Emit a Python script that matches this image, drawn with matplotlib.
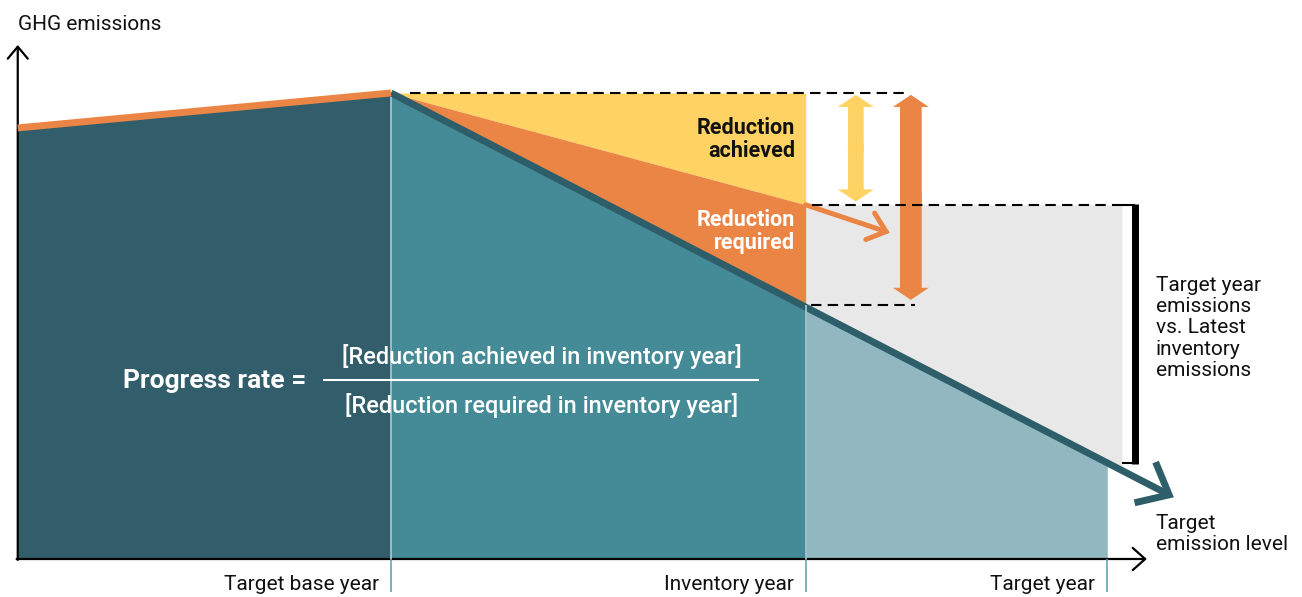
import numpy as np
import matplotlib
matplotlib.use('Agg')
import matplotlib.pyplot as plt
from matplotlib.patches import FancyArrowPatch

plt.rcParams['font.family'] = ['Roboto', 'DejaVu Sans']

# ---------------- data (conceptual diagram) ----------------
hist_years = [2000.1, 2010]
hist_emissions = [92.5, 100.0]
traj_years = [2010, 2021, 2029, 2030.8]
traj_emissions = [100.0, 54.6, 20.6, 13.1]
achieved_years = [2010, 2021]
achieved_emissions = [100.0, 76.0]
tick_years = [2010, 2021, 2029]
tick_labels = ['Target base year', 'Inventory year', 'Target year']
base_level = 100.0
inventory_level = 76.0
required_level = 54.6
target_level = 20.6

# ---------------- styles ----------------
DARK = '#325d6a'
TEAL = '#458a97'
LIGHT = '#91b7c1'
GRAY = '#e8e8e8'
YELLOW = '#fed263'
ORANGE = '#eb8545'
LINE = '#2f5e6b'
SEP = '#a3c1c8'
TICK = '#6aa3b0'
TXT = '#111111'

fig = plt.figure(figsize=(13.02, 5.97), dpi=100)
ax = fig.add_axes([0, 0, 1, 1])
ax.set_xlim(1999.629, 2034.165)
ax.set_ylim(-8.155, 119.95)
ax.axis('off')

AXIS_X0 = hist_years[0]

# areas
ax.fill_between(hist_years, 0, hist_emissions, color=DARK, lw=0)
ax.fill_between(traj_years[:2], 0, traj_emissions[:2], color=TEAL, lw=0)
ax.fill_between(traj_years[1:3], 0, traj_emissions[1:3], color=LIGHT, lw=0)
gx = np.array([traj_years[1], 2029.39])
ax.fill_between(gx, np.interp(gx, traj_years, traj_emissions), inventory_level,
                color=GRAY, lw=0)
ax.fill_between(achieved_years, achieved_emissions, base_level, color=YELLOW, lw=0)
ax.fill_between(achieved_years, traj_emissions[:2], achieved_emissions, color=ORANGE, lw=0)

# separators and ticks
ax.vlines([tick_years[0]], 0, hist_emissions[-1] - 0.8, color=SEP, lw=1.3)
ax.vlines([tick_years[1]], 0, required_level, color=SEP, lw=1.3)
ax.vlines(tick_years, -7.1, 0, color=TICK, lw=1.2)

# trajectory line with arrow
ax.add_patch(FancyArrowPatch((traj_years[0], traj_emissions[0]),
                             (traj_years[-1], traj_emissions[-1]),
                             arrowstyle='->,head_length=19.5,head_width=16.5',
                             mutation_scale=1, lw=5, color=LINE,
                             shrinkA=0, shrinkB=1, joinstyle='miter', capstyle='butt'))

# orange band on historical emissions
ax.plot(hist_years, hist_emissions, color=ORANGE, lw=5, solid_capstyle='butt')

# dashed guide lines
dash = (0, (5, 3))
ax.hlines(base_level, 2010.5, 2023.74, colors='k', lw=1.5, linestyles=[dash])
ax.hlines(inventory_level, 2021.17, 2029.55, colors='k', lw=1.5, linestyles=[dash])
ax.hlines(required_level, 2021.14, 2023.90, colors='k', lw=1.5, linestyles=[dash])

# double arrows (two overlapping single-headed halves)
def double_arrow(x, y0, y1, body, color):
    mid = (y0 + y1) / 2
    ov = 1.0
    ax.arrow(x, mid - ov, 0, y1 - (mid - ov), width=body, head_width=0.955,
             head_length=2.6, length_includes_head=True, color=color, lw=0)
    ax.arrow(x, mid + ov, 0, y0 - (mid + ov), width=body, head_width=0.955,
             head_length=2.6, length_includes_head=True, color=color, lw=0)

double_arrow(2022.33, inventory_level + 0.7, base_level - 0.4, 0.416, YELLOW)
double_arrow(2023.79, required_level + 1.0, base_level - 0.4, 0.576, ORANGE)

# small orange arrow
ax.add_patch(FancyArrowPatch((achieved_years[1], achieved_emissions[1]), (2023.30, 69.8),
                             arrowstyle='->,head_length=12,head_width=10',
                             mutation_scale=1, lw=3.6, color=ORANGE,
                             shrinkA=0, shrinkB=2, joinstyle='miter'))

# bracket
ax.vlines(2029.74, target_level - 0.2, inventory_level + 0.2, colors='k', lw=5)
ax.hlines([inventory_level, target_level], 2029.39, 2029.74, colors='k', lw=1.5)

# axes arrows
ax.add_patch(FancyArrowPatch((AXIS_X0, -0.2), (AXIS_X0, 110.3),
                             arrowstyle='->,head_length=8.6,head_width=7.2',
                             mutation_scale=1, lw=1.6, color='k', shrinkA=0, shrinkB=0))
ax.add_patch(FancyArrowPatch((AXIS_X0 - 0.03, 0), (2030.05, 0),
                             arrowstyle='->,head_length=9,head_width=8',
                             mutation_scale=1, lw=1.6, color='k', shrinkA=0, shrinkB=0))

# texts
FS = 15
ax.text(AXIS_X0, 114.6, 'GHG emissions', fontsize=FS, ha='left', va='center', color=TXT)
for yr, lab in zip(tick_years, tick_labels):
    ax.annotate(lab, (yr, 0), xytext=(-8.6, -18.7), textcoords='offset points',
                ha='right', va='center', fontsize=FS, color=TXT)

ax.text(2020.72, 90.0, 'Reduction\nachieved', fontsize=15.5, fontweight='bold',
        ha='right', va='center', linespacing=1.05, color=TXT)
ax.text(2020.72, 70.3, 'Reduction\nrequired', fontsize=15.5, fontweight='bold',
        ha='right', va='center', linespacing=1.05, color='white')

ax.text(2030.29, 49.6, 'Target year\nemissions\nvs. Latest\ninventory\nemissions',
        fontsize=FS, ha='left', va='center', linespacing=1.15, color=TXT)
ax.text(2030.29, 5.3, 'Target\nemission level', fontsize=FS, ha='left', va='center',
        linespacing=1.15, color=TXT)

ax.text(2002.89, 38.2, 'Progress rate =', fontsize=19, fontweight='bold',
        ha='left', va='center', color='white')
ax.text(2014.0, 43.4, '[Reduction achieved in inventory year]', fontsize=17,
        fontweight='medium', ha='center', va='center', color='white')
ax.text(2014.0, 33.0, '[Reduction required in inventory year]', fontsize=17,
        fontweight='medium', ha='center', va='center', color='white')
ax.hlines(38.4, 2008.2, 2019.76, colors='white', lw=1.5)

fig.savefig('out.png', dpi=100)
